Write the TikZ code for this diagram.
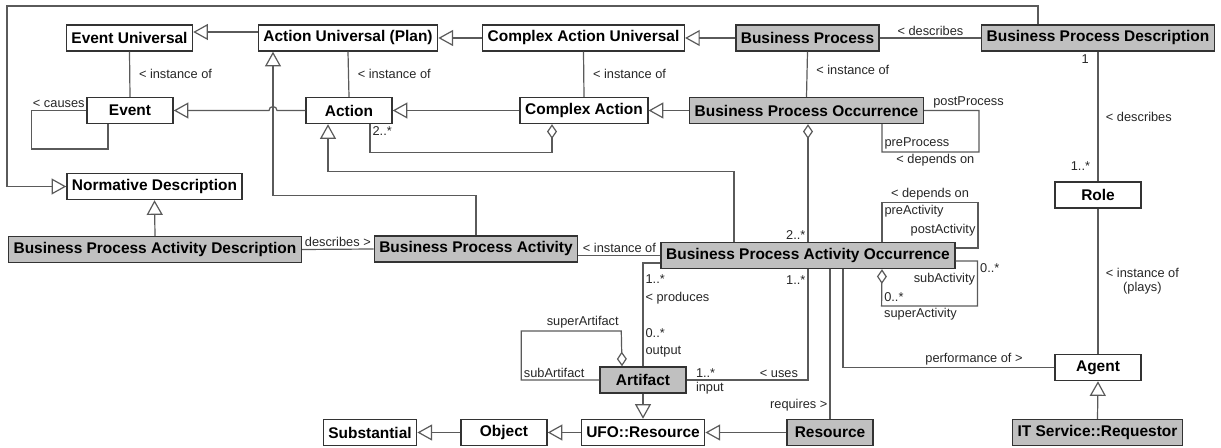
\documentclass[tikz,border=0pt]{standalone}
\usepackage{fontspec}
\setmainfont{Liberation Sans}
\usetikzlibrary{arrows.meta}
\definecolor{boxgray}{HTML}{C0C0C0}
\definecolor{edgegray}{HTML}{5A5A5A}
\definecolor{framegray}{HTML}{333333}
\tikzset{
  cls/.style={draw=framegray, line width=1.1pt, fill=white, minimum width=64.5pt,
    minimum height=19.5pt, inner xsep=3.75pt, inner ysep=2pt,
    font=\fontsize{11.6}{13}\selectfont\bfseries},
  bpm/.style={cls, fill=boxgray},
  rel/.style={draw=edgegray, line width=0.9pt},
  gen/.style={rel, -{Triangle[open, length=11pt, width=12pt]}},
  agg/.style={rel, -{Diamond[open, length=11pt, width=7.5pt]}},
  lbl/.style={inner sep=1.5pt, font=\fontsize{9.6}{11}\selectfont, text=black!85}
}
\begin{document}
\begin{tikzpicture}[x=0.75pt, y=-0.75pt]
	\useasboundingbox (0,0) rectangle (1221,448);
	% classes
	\node[cls] (evu) at (129.5,38) {Event Universal};
	\node[cls] (acu) at (348,38) {Action Universal (Plan)};
	\node[cls] (cau) at (583.5,38) {Complex Action Universal};
	\node[bpm] (bp) at (807.5,38) {Business Process};
	\node[bpm] (bpd) at (1098,38) {Business Process Description};
	\node[cls] (ev) at (130,110.5) {Event};
	\node[cls] (ac) at (349,110.5) {Action};
	\node[cls] (ca) at (584,110.5) {Complex Action};
	\node[bpm] (bpo) at (806.5,110.5) {Business Process Occurrence};
	\node[cls] (nd) at (154.5,186.5) {Normative Description};
	\node[cls] (role) at (1098,195) {Role};
	\node[bpm] (bpad) at (155,249.5) {Business Process Activity Description};
	\node[bpm] (bpa) at (476,249) {Business Process Activity};
	\node[bpm] (bpao) at (808,255.5) {Business Process Activity Occurrence};
	\node[bpm] (art) at (643,380) {Artifact};
	\node[cls] (agent) at (1098,367.5) {Agent};
	\node[cls] (subst) at (370,432.5) {Substantial};
	\node[cls] (obj) at (504,432.5) {Object};
	\node[cls] (ufo) at (643,432.5) {UFO::Resource};
	\node[bpm] (res) at (830,432.5) {Resource};
	\node[bpm] (its) at (1097.5,432.5) {IT Service::Requestor};
	% universals
	\draw[gen] ([yshift=4.5pt]acu.west) -- ([yshift=4.5pt]evu.east);
	\draw[gen] (cau.west) -- (acu.east);
	\draw[gen] (bp.west) -- (cau.east);
	\draw[rel] (bpd.west) -- node[lbl, above] {< describes} (bp.east);
	\draw[gen] ([xshift=-45pt]bpd.north) |- (7,6) |- (nd.west);
	\draw[rel] (evu.south) -- node[lbl, right=5pt] {< instance of} (ev.north);
	\draw[rel] (acu.south) -- node[lbl, right=5pt] {< instance of} (ac.north);
	\draw[rel] (cau.south) -- node[lbl, right=5pt] {< instance of} (ca.north);
	\draw[rel] (bp.south) -- node[lbl, right=5pt, pos=0.4] {< instance of} (bpo.north);
	% occurrences
	\draw[gen] (ac.west) -- (277,110.5) arc[start angle=0, end angle=180, radius=3pt] -- (ev.east);
	\draw[gen] (ca.west) -- (ac.east);
	\draw[gen] (bpo.west) -- (ca.east);
	\draw[rel] (ev.west) -- node[lbl, above] {< causes} ++(-55,0) -- ++(0,38.5) -| ([xshift=-16.5pt]ev.south);
	\draw[agg] ([xshift=15.75pt]ac.south) node[lbl, below right] {2..*} -- ++(0,28) -| ([xshift=-24pt]ca.south);
	\draw[gen] ([xshift=-55.5pt]bpao.north) -- ++(0,-70) -| ([xshift=-15.75pt]ac.south);
	\draw[gen] (bpa.north) -- ++(0,-40) -| ([xshift=-56.25pt]acu.south);
	\draw[rel] (bpo.east) node[lbl, above right, xshift=5pt] {postProcess} -- ++(55,0) -- ++(0,41.5)
		-- node[lbl, below, pos=0.45] {< depends on} ++(-97,0) node[lbl, above right] {preProcess}
		-- ([xshift=56.6pt]bpo.south);
	\draw[agg] (bpao.north) node[lbl, above left] {2..*} -- (bpao.north |- bpo.south);
	% roles
	\draw[rel] (bpd.south) node[lbl, below left, xshift=-5pt] {1} -- node[lbl, right=4pt] {< describes} (role.north)
		node[lbl, above left, xshift=-4pt, yshift=6pt] {1..*};
	\draw[rel] (role.south) -- node[lbl, right=4pt, align=center] {< instance of\\(plays)} (agent.north);
	\draw[gen] (its.north) -- (agent.south);
	% activities
	\draw[gen] (bpad.north) -- (nd.south);
	\draw[rel] (bpad.east) -- node[lbl, above] {describes >} (bpa.west);
	\draw[rel] (bpao.west) -- node[lbl, above] {< instance of} (bpao.west -| bpa.east);
	\draw[rel] ([xshift=55.5pt]bpao.north) -- ++(0,-39) node[lbl, below right] {preActivity}
		-- node[lbl, above] {< depends on} ++(96,0) |- node[lbl, pos=0.3, left] {postActivity} ([yshift=5.6pt]bpao.east);
	\draw[agg] ([yshift=-4.1pt]bpao.east) -- ++(22,0) node[lbl, below right] {0..*}
		-- node[lbl, pos=0.4, left] {subActivity} ++(0,45) -- ++(-96,0) node[lbl, below right] {superActivity}
		-- node[lbl, pos=0.24, right] {0..*} ([xshift=55.5pt]bpao.south);
	% artifacts and resources
	\draw[rel] (art.north) |- node[lbl, pos=0.07, right] {output} node[lbl, pos=0.16, right] {0..*}
		node[lbl, pos=0.33, right] {< produces} node[lbl, pos=0.42, right] {1..*} ([yshift=-5.6pt]bpao.west);
	\draw[rel] (art.east) node[lbl, above right, xshift=5pt] {1..*} node[lbl, below right, xshift=5pt] {input}
		-| node[lbl, pos=0.38, above] {< uses} node[lbl, pos=0.95, left] {1..*} (bpao.south);
	\draw[agg] (art.west) -- ++(-78,0) node[lbl, above right] {subArtifact} -- ++(0,-49)
		-- ++(100,0) node[lbl, above left] {superArtifact} -- ([xshift=-15.75pt]art.north);
	\draw[rel] (res.north) -- node[lbl, pos=0.09, left] {requires >} (res.north |- bpao.south);
	\draw[rel] ([xshift=26.25pt]bpao.south) |- node[lbl, pos=0.81, above] {performance of >} (agent.west);
	\draw[gen] (art.south) -- (ufo.north);
	\draw[gen] (res.west) -- (ufo.east);
	\draw[gen] (ufo.west) -- (obj.east);
	\draw[gen] (obj.west) -- (subst.east);
\end{tikzpicture}
\end{document}
